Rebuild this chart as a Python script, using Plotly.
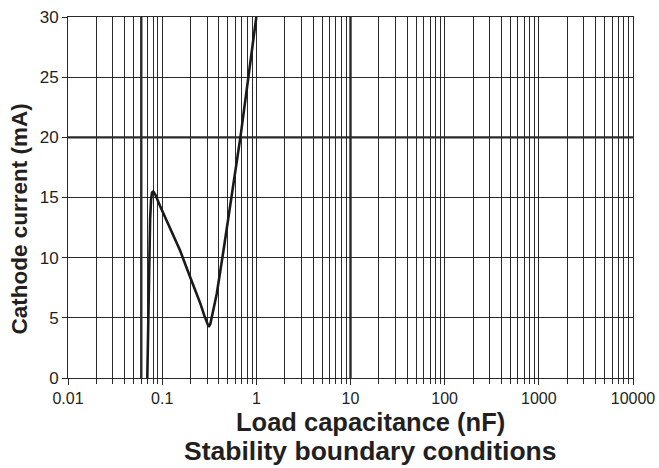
import plotly.graph_objects as go

# Curve data
cap_nf = [0.0695, 0.0712, 0.0728, 0.0745, 0.0762, 0.078, 0.0805, 0.085, 0.095, 0.11,
          0.13, 0.155, 0.185, 0.22, 0.254, 0.28, 0.3, 0.312, 0.325, 0.345,
          0.38, 0.45, 0.55, 0.68, 0.82, 1.0]
current_ma = [0, 5, 10, 13.2, 14.8, 15.4, 15.5, 15.2, 14.3, 13.2,
              12.0, 10.6, 9.0, 7.5, 6.2, 5.2, 4.5, 4.25, 4.5, 5.4,
              7.0, 10.7, 15.1, 20.1, 24.9, 30]

x_title = "Load capacitance (nF)"
subtitle = "Stability boundary conditions"
y_title = "Cathode current (mA)"

# emphasised grid lines
thick_x = [0.06, 10]
thick_y = [20]

GRID = "#2a2a2a"
TXT = "#231f20"
XTITLE_FONT = dict(family="Liberation Sans, Arial", size=25.5, color=TXT)
SUB_FONT = dict(family="Liberation Sans, Arial", size=26.5, color=TXT)
YTITLE_FONT = dict(family="Liberation Sans, Arial", size=22.5, color=TXT)

fig = go.Figure()
fig.add_trace(go.Scatter(x=cap_nf, y=current_ma, mode="lines",
                         line=dict(color="#1a1a1a", width=2.6),
                         showlegend=False, hoverinfo="skip"))

shapes = []
for xv in thick_x:
    shapes.append(dict(type="line", xref="x", yref="paper", x0=xv, x1=xv, y0=0, y1=1,
                       line=dict(color=GRID, width=2.4), layer="below"))
for yv in thick_y:
    shapes.append(dict(type="line", xref="paper", yref="y", x0=0, x1=1, y0=yv, y1=yv,
                       line=dict(color=GRID, width=2.4), layer="below"))

fig.update_layout(
    width=659, height=468,
    margin=dict(l=68, r=26, t=17, b=90),
    paper_bgcolor="white", plot_bgcolor="white",
    font=dict(family="Liberation Sans, Arial", color=TXT, size=16),
    shapes=shapes,
    xaxis=dict(
        type="log", range=[-2, 4], tickmode="linear", tick0=0, dtick=1,
        tickformat="~g", automargin=False,
        showgrid=True, gridcolor=GRID, gridwidth=1,
        ticks="outside", ticklen=6, tickcolor=GRID,
        showline=True, linecolor=GRID, linewidth=1, mirror=True,
        minor=dict(dtick="D1", showgrid=True, gridcolor=GRID, gridwidth=1,
                   ticks="outside", ticklen=5, tickcolor=GRID),
        tickfont=dict(size=16, color=TXT),
        zeroline=False,
    ),
    yaxis=dict(
        range=[0, 30], tickmode="linear", dtick=5, automargin=False,
        showgrid=True, gridcolor=GRID, gridwidth=1,
        ticks="outside", ticklen=5, tickcolor=GRID,
        showline=True, linecolor=GRID, linewidth=1, mirror=True,
        tickfont=dict(size=17, color=TXT),
        zeroline=False,
    ),
    annotations=[
        dict(text="<b>" + x_title + "</b>", xref="paper", yref="paper",
             x=0.536, y=0, yshift=-44, xanchor="center", yanchor="middle",
             showarrow=False, font=XTITLE_FONT),
        dict(text="<b>" + subtitle + "</b>", xref="paper", yref="paper",
             x=0.536, y=0, yshift=-73, xanchor="center", yanchor="middle",
             showarrow=False, font=SUB_FONT),
        dict(text="<b>" + y_title + "</b>", xref="paper", yref="paper",
             x=0, y=0.5, xshift=-49, yshift=-22, xanchor="center", yanchor="middle",
             textangle=-90, showarrow=False, font=YTITLE_FONT),
    ],
)

fig.write_html("out.html", config={"displayModeBar": False},
               post_script="document.body.style.margin='0';document.body.style.overflow='hidden';")
